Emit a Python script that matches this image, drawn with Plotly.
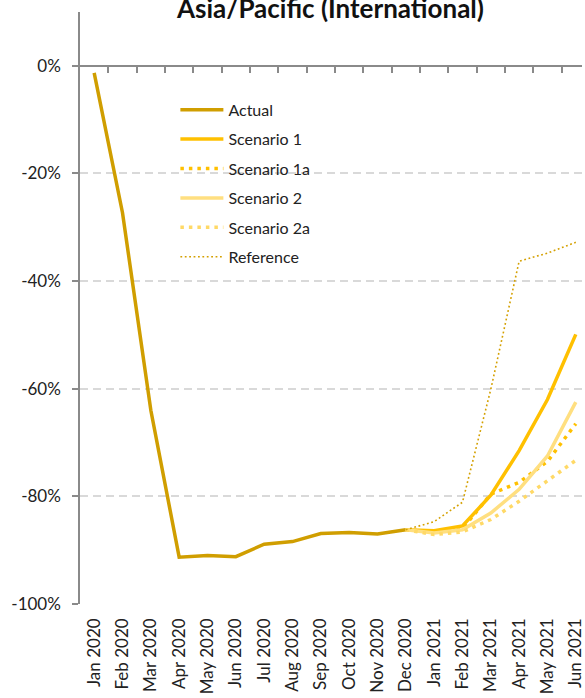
import plotly.graph_objects as go

months = ["Jan 2020", "Feb 2020", "Mar 2020", "Apr 2020", "May 2020", "Jun 2020",
          "Jul 2020", "Aug 2020", "Sep 2020", "Oct 2020", "Nov 2020", "Dec 2020",
          "Jan 2021", "Feb 2021", "Mar 2021", "Apr 2021", "May 2021", "Jun 2021"]

N = None
actual      = [-1.3, -27.3, -64.0, -91.3, -91.0, -91.2, -88.9, -88.4, -86.9, -86.7, -87.0, -86.2,
               N, N, N, N, N, N]
scenario_1  = [N] * 11 + [-86.2, -86.4, -85.5, -79.8, -71.5, -62.0, -49.9]
scenario_1a = [N] * 11 + [-86.2, -86.6, -86.0, -79.6, -77.4, -73.5, -66.5]
scenario_2  = [N] * 11 + [-86.2, -86.8, -86.2, -83.1, -78.7, -72.5, -62.5]
scenario_2a = [N] * 11 + [-86.2, -87.1, -86.6, -84.3, -80.9, -77.2, -73.3]
reference   = [N] * 11 + [-86.2, -84.7, -81.1, -60.1, -36.3, -34.8, -32.8]

y_tick_vals = [0, -20, -40, -60, -80, -100]
y_tick_text = ["0%", "-20%", "-40%", "-60%", "-80%", "-100%"]

FONT = "Lato, 'Open Sans', sans-serif"
AXIS_GRAY = "#8a8a8a"

series = [
    ("Actual", actual, dict(color="#D09E00", width=3.5)),
    ("Scenario 1", scenario_1, dict(color="#FFC000", width=3.5)),
    ("Scenario 1a", scenario_1a, dict(color="#FFC000", width=3.5, dash="3.5px,5px")),
    ("Scenario 2", scenario_2, dict(color="#FFDF80", width=3.5)),
    ("Scenario 2a", scenario_2a, dict(color="#FFD966", width=3.5, dash="3.5px,5px")),
    ("Reference", reference, dict(color="#D4A000", width=1.6, dash="1.8px,2.6px")),
]

fig = go.Figure()
for i, (name, vals, line) in enumerate(series):
    fig.add_trace(go.Scatter(
        x=months, y=vals, name=name, mode="lines", line=line,
        legendgroup=f"g{i}", connectgaps=False, hoverinfo="skip"))

# invisible trace that carries the axis drawn along the 0% line
fig.add_trace(go.Scatter(x=[0], y=[0], xaxis="x2", mode="markers",
                         marker=dict(opacity=0), showlegend=False, hoverinfo="skip"))

n = len(months)
cat_px = 28.5
plot_w = 585 - 80
x_hi = -0.5 + plot_w / cat_px

fig.update_layout(
    width=585, height=698,
    margin=dict(l=80, r=0, t=12, b=94),
    paper_bgcolor="white", plot_bgcolor="white",
    font=dict(family=FONT, size=16, color="#222222"),
    showlegend=True,
    legend=dict(x=0.19, y=0.8635, xanchor="left", yanchor="top",
                bgcolor="rgba(0,0,0,0)", font=dict(size=16, family=FONT),
                tracegroupgap=5.6, itemwidth=43),
    xaxis=dict(type="category", categoryorder="array", categoryarray=months,
               range=[-0.5, x_hi], showgrid=False, showline=False, ticks="",
               tickangle=-90, tickfont=dict(size=17, family=FONT),
               ticklabelstandoff=10, zeroline=False, fixedrange=True),
    xaxis2=dict(overlaying="x", anchor="free", position=100 / 110,
                range=[-0.5, x_hi], tickvals=[k + 0.5 for k in range(n - 1)],
                ticks="outside", ticklen=6, tickwidth=1.5, tickcolor=AXIS_GRAY,
                showticklabels=False, showline=True, linecolor=AXIS_GRAY,
                linewidth=1.5, showgrid=False, zeroline=False, side="bottom"),
    yaxis=dict(range=[-100, 10], tickvals=y_tick_vals, ticktext=y_tick_text,
               showline=True, linecolor=AXIS_GRAY, linewidth=1.5,
               ticks="outside", ticklen=6, tickwidth=1.5, tickcolor=AXIS_GRAY,
               showgrid=True, gridcolor="#d9d9d9", gridwidth=1.5, griddash="8px,5px",
               zeroline=False, tickfont=dict(size=17, family=FONT),
               ticklabelstandoff=8, fixedrange=True),
    annotations=[dict(text="<b>Asia/Pacific (International)</b>", xref="paper", yref="paper",
                      x=(331 - 80) / 505, y=1 + (12 - 26) / 592, xanchor="center",
                      yanchor="bottom", showarrow=False,
                      font=dict(size=26, family=FONT, color="#111111"))],
)

fig.write_html("out.html", config={"displayModeBar": False},
               post_script="document.body.style.margin='0';document.body.style.overflow='hidden';")
